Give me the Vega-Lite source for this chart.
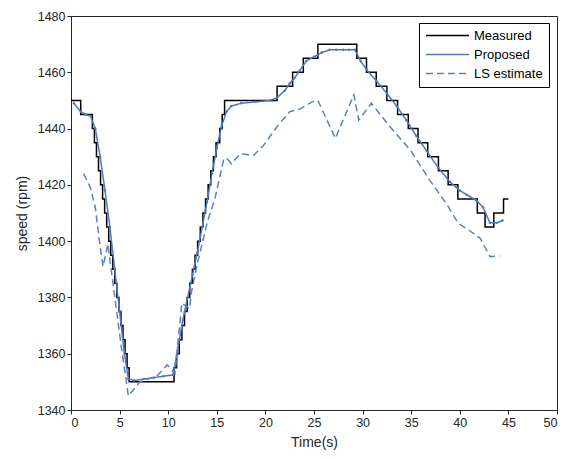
{
  "$schema": "https://vega.github.io/schema/vega-lite/v6.json",
  "width": 486,
  "height": 394,
  "autosize": "none",
  "padding": {"left": 71, "top": 16, "right": 9, "bottom": 49},
  "background": "white",
  "config": {
    "font": "Liberation Sans",
    "view": {"stroke": "#262626", "strokeWidth": 1},
    "axis": {
      "grid": false,
      "domainColor": "#262626",
      "tickColor": "#262626",
      "labelColor": "#262626",
      "titleColor": "#262626",
      "labelFontSize": 12.5,
      "titleFontSize": 14,
      "titleFontWeight": "normal",
      "labelPadding": 6
    }
  },
  "datasets": {
    "measured": [
      {"series": "Measured", "t": 0, "v": 1450},
      {"series": "Measured", "t": 1.0, "v": 1445},
      {"series": "Measured", "t": 2.2, "v": 1440},
      {"series": "Measured", "t": 2.41, "v": 1435},
      {"series": "Measured", "t": 2.62, "v": 1430},
      {"series": "Measured", "t": 2.83, "v": 1425},
      {"series": "Measured", "t": 3.04, "v": 1420},
      {"series": "Measured", "t": 3.25, "v": 1415},
      {"series": "Measured", "t": 3.46, "v": 1410},
      {"series": "Measured", "t": 3.67, "v": 1405},
      {"series": "Measured", "t": 3.88, "v": 1400},
      {"series": "Measured", "t": 4.09, "v": 1395},
      {"series": "Measured", "t": 4.3, "v": 1390},
      {"series": "Measured", "t": 4.51, "v": 1385},
      {"series": "Measured", "t": 4.72, "v": 1380},
      {"series": "Measured", "t": 4.93, "v": 1375},
      {"series": "Measured", "t": 5.14, "v": 1370},
      {"series": "Measured", "t": 5.35, "v": 1365},
      {"series": "Measured", "t": 5.56, "v": 1360},
      {"series": "Measured", "t": 5.77, "v": 1355},
      {"series": "Measured", "t": 5.98, "v": 1350},
      {"series": "Measured", "t": 10.6, "v": 1355},
      {"series": "Measured", "t": 10.87, "v": 1360},
      {"series": "Measured", "t": 11.14, "v": 1365},
      {"series": "Measured", "t": 11.41, "v": 1370},
      {"series": "Measured", "t": 11.68, "v": 1375},
      {"series": "Measured", "t": 11.95, "v": 1380},
      {"series": "Measured", "t": 12.22, "v": 1385},
      {"series": "Measured", "t": 12.49, "v": 1390},
      {"series": "Measured", "t": 12.76, "v": 1395},
      {"series": "Measured", "t": 13.03, "v": 1400},
      {"series": "Measured", "t": 13.3, "v": 1405},
      {"series": "Measured", "t": 13.57, "v": 1410},
      {"series": "Measured", "t": 13.84, "v": 1415},
      {"series": "Measured", "t": 14.11, "v": 1420},
      {"series": "Measured", "t": 14.38, "v": 1425},
      {"series": "Measured", "t": 14.65, "v": 1430},
      {"series": "Measured", "t": 14.92, "v": 1435},
      {"series": "Measured", "t": 15.3, "v": 1440},
      {"series": "Measured", "t": 15.55, "v": 1445},
      {"series": "Measured", "t": 15.8, "v": 1450},
      {"series": "Measured", "t": 21.2, "v": 1455},
      {"series": "Measured", "t": 22.8, "v": 1460},
      {"series": "Measured", "t": 23.9, "v": 1465},
      {"series": "Measured", "t": 25.4, "v": 1470},
      {"series": "Measured", "t": 29.4, "v": 1465},
      {"series": "Measured", "t": 30.4, "v": 1460},
      {"series": "Measured", "t": 31.4, "v": 1455},
      {"series": "Measured", "t": 32.5, "v": 1450},
      {"series": "Measured", "t": 33.6, "v": 1445},
      {"series": "Measured", "t": 34.7, "v": 1440},
      {"series": "Measured", "t": 35.7, "v": 1435},
      {"series": "Measured", "t": 36.7, "v": 1430},
      {"series": "Measured", "t": 37.8, "v": 1425},
      {"series": "Measured", "t": 38.8, "v": 1420},
      {"series": "Measured", "t": 39.8, "v": 1415},
      {"series": "Measured", "t": 41.8, "v": 1410},
      {"series": "Measured", "t": 42.6, "v": 1405},
      {"series": "Measured", "t": 43.5, "v": 1410},
      {"series": "Measured", "t": 44.5, "v": 1415},
      {"series": "Measured", "t": 45.0, "v": 1415}
    ],
    "proposed": [
      {"series": "Proposed", "t": 0.3, "v": 1449},
      {"series": "Proposed", "t": 1.0, "v": 1446},
      {"series": "Proposed", "t": 1.5, "v": 1445},
      {"series": "Proposed", "t": 2.0, "v": 1444.5},
      {"series": "Proposed", "t": 2.5, "v": 1440},
      {"series": "Proposed", "t": 3.0, "v": 1430},
      {"series": "Proposed", "t": 3.5, "v": 1418},
      {"series": "Proposed", "t": 4.0, "v": 1405},
      {"series": "Proposed", "t": 4.5, "v": 1390},
      {"series": "Proposed", "t": 5.0, "v": 1375},
      {"series": "Proposed", "t": 5.5, "v": 1360},
      {"series": "Proposed", "t": 5.9, "v": 1351},
      {"series": "Proposed", "t": 6.5, "v": 1350.5},
      {"series": "Proposed", "t": 7.5, "v": 1351},
      {"series": "Proposed", "t": 8.5, "v": 1351.5},
      {"series": "Proposed", "t": 9.5, "v": 1352},
      {"series": "Proposed", "t": 10.5, "v": 1352.5},
      {"series": "Proposed", "t": 11.0, "v": 1362},
      {"series": "Proposed", "t": 11.5, "v": 1372},
      {"series": "Proposed", "t": 12.0, "v": 1380},
      {"series": "Proposed", "t": 12.5, "v": 1388},
      {"series": "Proposed", "t": 13.0, "v": 1396},
      {"series": "Proposed", "t": 13.5, "v": 1405},
      {"series": "Proposed", "t": 14.0, "v": 1414},
      {"series": "Proposed", "t": 14.5, "v": 1424},
      {"series": "Proposed", "t": 15.0, "v": 1433},
      {"series": "Proposed", "t": 15.5, "v": 1441},
      {"series": "Proposed", "t": 16.0, "v": 1446},
      {"series": "Proposed", "t": 16.5, "v": 1448},
      {"series": "Proposed", "t": 17.5, "v": 1449},
      {"series": "Proposed", "t": 19.0, "v": 1449.5},
      {"series": "Proposed", "t": 20.5, "v": 1450},
      {"series": "Proposed", "t": 21.2, "v": 1451},
      {"series": "Proposed", "t": 22.0, "v": 1453.5},
      {"series": "Proposed", "t": 22.5, "v": 1456},
      {"series": "Proposed", "t": 23.0, "v": 1458},
      {"series": "Proposed", "t": 23.5, "v": 1460.5},
      {"series": "Proposed", "t": 24.2, "v": 1464},
      {"series": "Proposed", "t": 25.0, "v": 1465.5},
      {"series": "Proposed", "t": 25.8, "v": 1467},
      {"series": "Proposed", "t": 26.6, "v": 1468},
      {"series": "Proposed", "t": 27.3, "v": 1468},
      {"series": "Proposed", "t": 28.0, "v": 1468},
      {"series": "Proposed", "t": 28.6, "v": 1468},
      {"series": "Proposed", "t": 29.2, "v": 1468},
      {"series": "Proposed", "t": 29.8, "v": 1464},
      {"series": "Proposed", "t": 30.4, "v": 1461},
      {"series": "Proposed", "t": 31.4, "v": 1457},
      {"series": "Proposed", "t": 32.5, "v": 1452.5},
      {"series": "Proposed", "t": 33.5, "v": 1448},
      {"series": "Proposed", "t": 34.5, "v": 1443},
      {"series": "Proposed", "t": 35.5, "v": 1437.5},
      {"series": "Proposed", "t": 36.6, "v": 1432},
      {"series": "Proposed", "t": 37.8, "v": 1426},
      {"series": "Proposed", "t": 39.0, "v": 1421},
      {"series": "Proposed", "t": 40.0, "v": 1418},
      {"series": "Proposed", "t": 40.7, "v": 1416.5},
      {"series": "Proposed", "t": 41.7, "v": 1414.5},
      {"series": "Proposed", "t": 42.4, "v": 1412},
      {"series": "Proposed", "t": 43.1, "v": 1406.5},
      {"series": "Proposed", "t": 43.8, "v": 1406.5},
      {"series": "Proposed", "t": 44.4, "v": 1407.3}
    ],
    "ls": [
      {"series": "LS estimate", "t": 1.3, "v": 1424},
      {"series": "LS estimate", "t": 2.0, "v": 1419},
      {"series": "LS estimate", "t": 2.5, "v": 1412},
      {"series": "LS estimate", "t": 3.0, "v": 1398},
      {"series": "LS estimate", "t": 3.3, "v": 1391},
      {"series": "LS estimate", "t": 3.8, "v": 1399},
      {"series": "LS estimate", "t": 4.5, "v": 1380},
      {"series": "LS estimate", "t": 5.2, "v": 1362},
      {"series": "LS estimate", "t": 5.9, "v": 1345},
      {"series": "LS estimate", "t": 7.1, "v": 1350},
      {"series": "LS estimate", "t": 8.8, "v": 1352},
      {"series": "LS estimate", "t": 9.9, "v": 1356},
      {"series": "LS estimate", "t": 10.7, "v": 1353},
      {"series": "LS estimate", "t": 11.4, "v": 1378},
      {"series": "LS estimate", "t": 12.2, "v": 1376},
      {"series": "LS estimate", "t": 12.4, "v": 1382},
      {"series": "LS estimate", "t": 13.0, "v": 1392},
      {"series": "LS estimate", "t": 14.0, "v": 1406.5},
      {"series": "LS estimate", "t": 14.8, "v": 1415},
      {"series": "LS estimate", "t": 15.7, "v": 1429},
      {"series": "LS estimate", "t": 16.0, "v": 1429.5},
      {"series": "LS estimate", "t": 16.5, "v": 1427.5},
      {"series": "LS estimate", "t": 17.4, "v": 1431},
      {"series": "LS estimate", "t": 18.8, "v": 1430.5},
      {"series": "LS estimate", "t": 19.8, "v": 1434},
      {"series": "LS estimate", "t": 21.2, "v": 1440.7},
      {"series": "LS estimate", "t": 22.5, "v": 1446},
      {"series": "LS estimate", "t": 23.6, "v": 1447},
      {"series": "LS estimate", "t": 24.8, "v": 1449.5},
      {"series": "LS estimate", "t": 25.4, "v": 1450},
      {"series": "LS estimate", "t": 27.2, "v": 1436.5},
      {"series": "LS estimate", "t": 29.1, "v": 1452},
      {"series": "LS estimate", "t": 29.6, "v": 1443},
      {"series": "LS estimate", "t": 30.9, "v": 1449},
      {"series": "LS estimate", "t": 32.8, "v": 1440.7},
      {"series": "LS estimate", "t": 34.9, "v": 1432.4},
      {"series": "LS estimate", "t": 36.9, "v": 1421.7},
      {"series": "LS estimate", "t": 38.6, "v": 1413.4},
      {"series": "LS estimate", "t": 39.85, "v": 1406.3},
      {"series": "LS estimate", "t": 40.9, "v": 1404},
      {"series": "LS estimate", "t": 42.1, "v": 1401},
      {"series": "LS estimate", "t": 43.1, "v": 1394.5},
      {"series": "LS estimate", "t": 44.1, "v": 1394.7}
    ]
  },
  "encoding": {
    "color": {
      "field": "series",
      "type": "nominal",
      "scale": {"domain": ["Measured", "Proposed", "LS estimate"], "range": ["#000000", "#4f77be", "#5b80c2"]},
      "legend": {
        "title": null,
        "orient": "none",
        "legendX": 348,
        "legendY": 7,
        "symbolType": "M-4,0H4",
        "symbolSize": 116,
        "symbolStrokeWidth": 1.5,
        "symbolFillColor": "transparent",
        "symbolOffset": 16,
        "labelFontSize": 13,
        "labelColor": "#000000",
        "strokeColor": "#000000",
        "fillColor": "#ffffff",
        "padding": 6,
        "rowPadding": 5,
        "labelOffset": 20
      }
    },
    "strokeDash": {
      "field": "series",
      "type": "nominal",
      "scale": {"domain": ["Measured", "Proposed", "LS estimate"], "range": [[1, 0], [1, 0], [7, 4]]},
      "legend": {
        "title": null,
        "orient": "none",
        "legendX": 348,
        "legendY": 7,
        "symbolType": "M-4,0H4",
        "symbolSize": 116,
        "symbolStrokeWidth": 1.5,
        "symbolFillColor": "transparent",
        "symbolOffset": 16,
        "labelFontSize": 13,
        "labelColor": "#000000",
        "strokeColor": "#000000",
        "fillColor": "#ffffff",
        "padding": 6,
        "rowPadding": 5,
        "labelOffset": 20
      }
    }
  },
  "layer": [
    {
      "data": {"name": "measured"},
      "mark": {"type": "line", "interpolate": "step-after", "strokeWidth": 1.5},
      "encoding": {
        "x": {"field": "t", "type": "quantitative", "scale": {"domain": [0, 50], "nice": false}, "axis": {"title": "Time(s)", "format": "d", "values": [0, 5, 10, 15, 20, 25, 30, 35, 40, 45, 50], "titlePadding": 7, "ticks": true, "tickSize": 4, "labelPadding": 2}},
        "y": {"field": "v", "type": "quantitative", "scale": {"domain": [1340, 1480], "nice": false, "zero": false}, "axis": {"title": "speed (rpm)", "format": "d", "values": [1340, 1360, 1380, 1400, 1420, 1440, 1460, 1480], "titlePadding": 8, "ticks": true, "tickSize": 4, "labelPadding": 2}}
      }
    },
    {
      "data": {"name": "proposed"},
      "mark": {"type": "line", "strokeWidth": 1.5, "point": {"size": 6, "filled": true, "color": "#4f77be"}},
      "encoding": {
        "x": {"field": "t", "type": "quantitative"},
        "y": {"field": "v", "type": "quantitative"}
      }
    },
    {
      "data": {"name": "ls"},
      "mark": {"type": "line", "strokeWidth": 1.5},
      "encoding": {
        "x": {"field": "t", "type": "quantitative"},
        "y": {"field": "v", "type": "quantitative"}
      }
    }
  ]
}
